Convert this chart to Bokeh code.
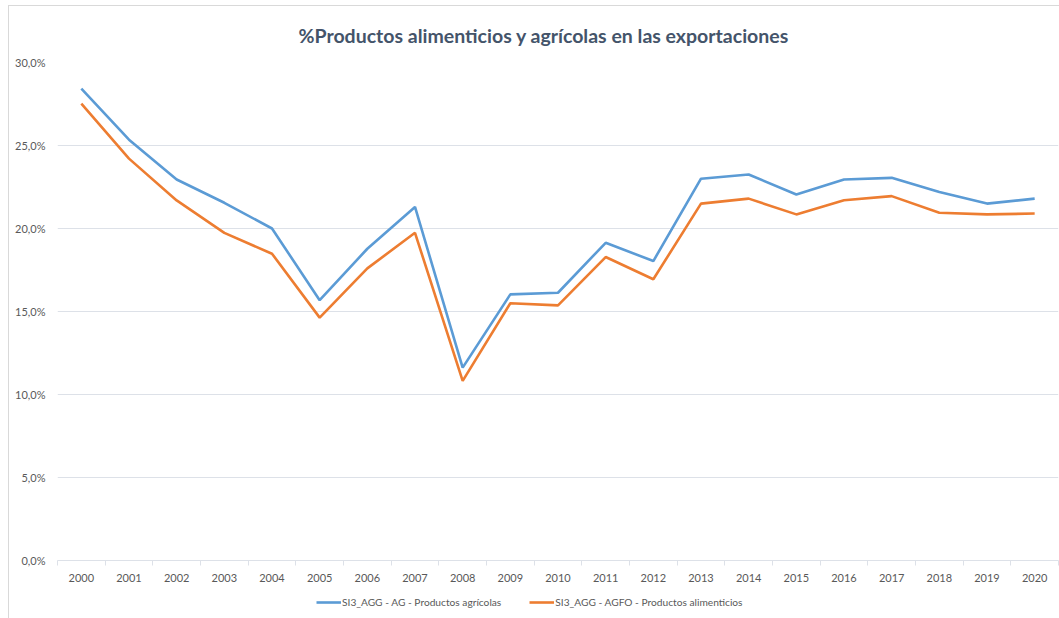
from bokeh.plotting import figure
from bokeh.layouts import column
from bokeh.models import (FixedTicker, CustomJSTickFormatter, Legend, LegendItem,
                          Range1d, ColumnDataSource, Title)
from bokeh.embed import file_html
from bokeh.resources import INLINE

years = list(range(2000, 2021))
agricolas = [28.42, 25.35, 22.95, 21.55, 20.0, 15.68, 18.78, 21.3, 11.62, 16.03,
             16.13, 19.14, 18.04, 23.0, 23.25, 22.05, 22.95, 23.05, 22.2, 21.5, 21.8]
alimenticios = [27.52, 24.21, 21.69, 19.74, 18.48, 14.63, 17.6, 19.74, 10.82, 15.5,
                15.37, 18.28, 16.94, 21.5, 21.8, 20.85, 21.7, 21.95, 20.95, 20.85, 20.9]
y_ticks = [0, 5, 10, 15, 20, 25, 30]
title_text = "%Productos alimenticios y agrícolas en las exportaciones"
name_ag = "SI3_AGG - AG - Productos agrícolas"
name_agfo = "SI3_AGG - AGFO - Productos alimenticios"

FONT = "Lato"
GRID = "#dde1e8"
TXT = "#595959"
BLUE = "#5B9BD5"
ORANGE = "#ED7D31"

src = ColumnDataSource(dict(x=years, ag=agricolas, agfo=alimenticios))

p = figure(width=1050, height=582, output_backend="svg", toolbar_location=None,
           x_range=Range1d(1999.5, 2020.5), y_range=Range1d(0, 30),
           min_border_left=48, min_border_right=1, min_border_top=55, min_border_bottom=28)
p.outline_line_color = None

t = Title(text=title_text, align="left", offset=241, text_font=FONT, text_font_size="19.5px",
          text_font_style="bold", text_color="#44546A", standoff=31, text_line_height=1.0)
p.add_layout(t, "above")

p.line("x", "ag", source=src, line_color=BLUE, line_width=2.6)
p.line("x", "agfo", source=src, line_color=ORANGE, line_width=2.6)

# x axis
p.xaxis.ticker = FixedTicker(ticks=years, minor_ticks=[y - 0.5 for y in years] + [2020.5])
p.xaxis.major_tick_line_color = None
p.xaxis.minor_tick_line_color = GRID
p.xaxis.minor_tick_out = 5
p.xaxis.minor_tick_in = 0
p.xaxis.axis_line_color = GRID
p.xaxis.major_label_text_font = FONT
p.xaxis.major_label_text_font_size = "11px"
p.xaxis.major_label_text_color = TXT
p.xaxis.major_label_standoff = 7
p.xgrid.grid_line_color = None

# y axis
p.yaxis.ticker = FixedTicker(ticks=y_ticks)
p.yaxis.formatter = CustomJSTickFormatter(code="return tick.toFixed(1).replace('.', ',') + '%';")
p.yaxis.axis_line_color = None
p.yaxis.major_tick_line_color = None
p.yaxis.minor_tick_line_color = None
p.yaxis.major_label_text_font = FONT
p.yaxis.major_label_text_font_size = "11px"
p.yaxis.major_label_text_color = TXT
p.yaxis.major_label_standoff = 6
p.ygrid.grid_line_color = GRID
p.ygrid.grid_line_width = 1

# legend strip below the chart
lg = figure(width=1050, height=30, output_backend="svg", toolbar_location=None,
            x_range=Range1d(1999.5, 2020.5), y_range=Range1d(0, 30),
            min_border_left=0, min_border_right=0, min_border_top=0, min_border_bottom=0,
            x_axis_location=None, y_axis_location=None)
lg.outline_line_color = None
lg.grid.visible = False
r1 = lg.line("x", "ag", source=src, line_color=BLUE, line_width=2.6, visible=False)
r2 = lg.line("x", "agfo", source=src, line_color=ORANGE, line_width=2.6, visible=False)
legend = Legend(items=[LegendItem(label=name_ag, renderers=[r1]),
                       LegendItem(label=name_agfo, renderers=[r2])],
                orientation="horizontal", location=(259, 10),
                label_text_font=FONT, label_text_font_size="10.2px", label_text_color=TXT,
                glyph_width=25, glyph_height=12, label_height=12, label_standoff=1, spacing=28,
                border_line_color=None, background_fill_alpha=0, margin=0, padding=0,
                inactive_fill_alpha=0)
lg.add_layout(legend)

layout = column(p, lg, spacing=0)
layout.styles = {"margin-left": "8px", "margin-top": "5px",
                 "border-left": "1px solid #d9d9d9", "border-top": "1px solid #d9d9d9"}

open("out.html", "w").write(file_html(layout, INLINE))
